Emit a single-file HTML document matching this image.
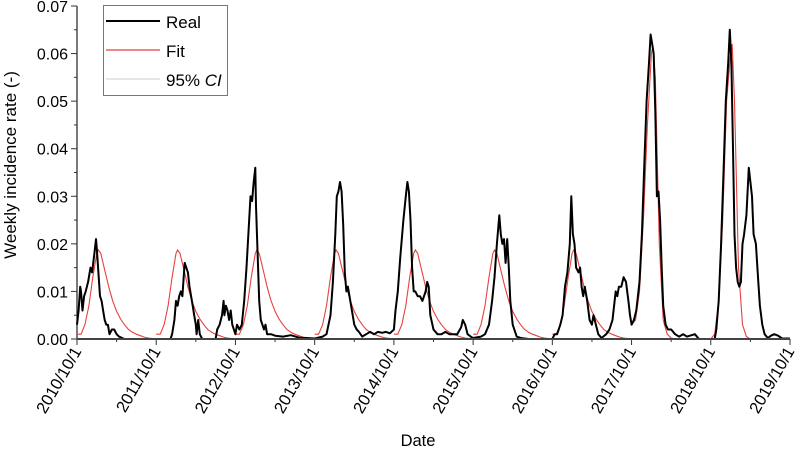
<!DOCTYPE html>
<html><head><meta charset="utf-8"><style>
body{margin:0;background:#fff;}
svg{display:block;font-family:"Liberation Sans",sans-serif;}
</style></head><body>
<svg id="chart" width="796" height="451">
<g id="axes"></g>
<g id="series"></g>
<g id="legend">
<rect x="103.5" y="5.5" width="124" height="90" fill="#fff" stroke="#777" stroke-width="1"/>
<line x1="106" y1="21" x2="160" y2="21" stroke="#000" stroke-width="2"/>
<text x="166" y="28" font-size="17">Real</text>
<line x1="106" y1="50" x2="160" y2="50" stroke="#e8403f" stroke-width="1.3"/>
<text x="166" y="57" font-size="17">Fit</text>
<line x1="106" y1="79" x2="160" y2="79" stroke="#ccc" stroke-width="1"/>
<text x="166" y="86" font-size="17">95% <tspan font-style="italic">CI</tspan></text>
</g>
</svg>
<script>
const realT=[0,.02,.04,.05,.07,.09,.11,.14,.17,.19,.22,.24,.25,.27,.29,.31,.33,.35,.37,.39,.41,.44,.47,.5,.53,.57,.6,
1.0,1.1,1.18,1.2,1.23,1.25,1.27,1.29,1.31,1.33,1.35,1.36,1.38,1.4,1.42,1.44,1.46,1.48,1.5,1.51,1.53,1.55,1.58,1.75,1.77,1.8,1.83,1.85,1.86,1.88,1.9,1.92,1.94,1.96,1.98,2.0,2.02,2.05,2.08,2.11,2.14,2.17,2.19,2.21,2.23,2.25,2.26,2.28,2.3,2.32,2.34,2.36,2.38,2.4,2.45,2.5,2.6,2.7,2.8,2.9,3.0,
3.1,3.15,3.2,3.23,3.26,3.28,3.3,3.32,3.34,3.36,3.38,3.4,3.42,3.44,3.47,3.5,3.53,3.56,3.6,3.65,3.7,3.75,3.8,3.85,3.9,3.95,4.0,
4.02,4.05,4.08,4.12,4.15,4.17,4.19,4.21,4.23,4.25,4.27,4.3,4.33,4.36,4.4,4.42,4.44,4.46,4.5,4.55,4.6,4.65,4.7,4.8,4.85,4.87,4.9,4.93,4.97,
5.0,5.1,5.15,5.2,5.24,5.27,5.3,5.33,5.35,5.37,5.39,5.41,5.43,5.45,5.47,5.5,5.55,5.6,5.7,6.0,
6.03,6.06,6.1,6.13,6.16,6.19,6.22,6.24,6.26,6.28,6.3,6.33,6.35,6.37,6.39,6.41,6.44,6.47,6.5,6.52,6.55,6.58,6.62,6.68,6.72,6.76,6.8,6.82,6.84,6.87,6.9,6.93,6.96,6.98,7.0,7.03,7.06,7.1,7.13,7.16,7.19,7.22,7.24,7.26,7.28,7.3,7.32,7.34,7.36,7.38,7.4,7.43,7.46,7.5,7.55,7.6,7.65,7.7,7.8,7.85,8.0,8.05,
8.07,8.1,8.13,8.16,8.19,8.22,8.24,8.26,8.28,8.3,8.32,8.34,8.36,8.38,8.4,8.42,8.45,8.48,8.5,8.52,8.54,8.57,8.6,8.62,8.65,8.68,8.72,8.76,8.8,8.85,8.9,9.0];
const realV=[.003,.006,.011,.01,.006,.009,.01,.012,.015,.014,.018,.021,.019,.014,.009,.008,.006,.004,.003,.003,.001,.002,.002,.001,.0005,.0002,0,
0,0,0,.001,.004,.008,.007,.009,.01,.009,.014,.016,.015,.014,.011,.009,.007,.005,.003,.001,.004,.001,0,0,.002,.003,.005,.008,.005,.007,.006,.004,.006,.003,.002,.001,.003,.002,.003,.008,.015,.024,.03,.029,.033,.036,.028,.018,.008,.004,.003,.002,.003,.001,.001,.0007,.0005,.0008,.0003,.0002,.0001,
.0005,.001,.005,.012,.022,.03,.031,.033,.031,.024,.014,.01,.011,.009,.006,.003,.002,.0015,.0005,.001,.0015,.001,.0015,.0013,.0015,.0012,.002,
.006,.01,.017,.025,.03,.033,.031,.025,.015,.01,.01,.009,.009,.008,.01,.012,.011,.005,.002,.001,.001,.0015,.001,.001,.0025,.004,.003,.001,.0005,
.0002,.0005,.001,.003,.008,.013,.02,.026,.022,.02,.021,.016,.021,.015,.008,.003,.0005,.0002,0,0,
.001,.001,.003,.005,.011,.014,.02,.03,.022,.02,.015,.014,.015,.011,.009,.011,.008,.004,.003,.005,.003,.001,.0002,.001,.002,.004,.01,.009,.011,.011,.013,.012,.008,.005,.003,.004,.006,.012,.022,.036,.05,.058,.064,.062,.06,.048,.03,.031,.025,.015,.007,.003,.002,.002,.001,.0005,.001,.0005,.001,0,0,0,
.002,.008,.02,.035,.05,.058,.065,.058,.04,.022,.015,.012,.011,.012,.02,.022,.026,.036,.033,.03,.022,.02,.012,.007,.003,.001,.0002,.0007,.001,.0007,.0001,.0001];
const fitOff=[0,.05,.1,.15,.2,.25,.27,.3,.35,.4,.45,.5,.55,.6,.65,.7,.75,.8,.85,.9,.95,1.0];
const fitBroad=[.001,.001,.003,.007,.013,.018,.0187,.018,.0145,.011,.008,.0058,.0042,.003,.002,.0014,.001,.0007,.0004,.0002,.0001,0];
const fit2017=[.003,.004,.01,.025,.045,.06,.0615,.055,.02,.004,.001,.0002,0,0,0,0,0,0,0,0,0,0];
const fit2018=[0,.001,.008,.025,.05,.06,.062,.05,.015,.003,.0005,0,0,0,0,0,0,0,0,0,0,0];
const seasonShapes=[fitBroad,fitBroad,fitBroad,fitBroad,fitBroad,fitBroad,fitBroad,fit2017,fit2018];
const yTicks=[0,0.01,0.02,0.03,0.04,0.05,0.06,0.07];
const yTickLabels=["0.00","0.01","0.02","0.03","0.04","0.05","0.06","0.07"];
const xTickLabels=["2010/10/1","2011/10/1","2012/10/1","2013/10/1","2014/10/1","2015/10/1","2016/10/1","2017/10/1","2018/10/1","2019/10/1"];

const NS="http://www.w3.org/2000/svg";
const X0=77,X1=790,Y0=339,Y1=6,YMAX=0.07,TMAX=9;
function xs(t){return X0+t/TMAX*(X1-X0);}
function ys(v){return Y0-v/YMAX*(Y0-Y1);}
function mk(tag,attrs,parent){const e=document.createElementNS(NS,tag);for(const k in attrs)e.setAttribute(k,attrs[k]);parent.appendChild(e);return e;}
const axes=document.getElementById('axes'),series=document.getElementById('series');
let yl=mk('line',{x1:X0,y1:Y0,x2:X0,y2:Y1,stroke:'#333','stroke-width':1.3},axes);


for(let v=0;v<=0.0701;v+=0.005){
  const major=Math.abs(v/0.01-Math.round(v/0.01))<1e-6;
  let t=mk('line',{x1:X0-(major?6:3),x2:X0,y1:ys(v),y2:ys(v),stroke:'#333','stroke-width':1},axes);
  
  
}
yTicks.forEach((v,i)=>{
  let t=mk('text',{x:X0-9,y:ys(v)+6,'font-size':16,'text-anchor':'end',fill:'#000'},axes);
  t.textContent=yTickLabels[i];
  
  
});
for(let k=0;k<=TMAX*2;k++){
  const t=k/2,major=k%2===0;
  let l=mk('line',{x1:xs(t),x2:xs(t),y1:Y0,y2:Y0+(major?6:3),stroke:'#333','stroke-width':1},axes);
  
  
}
xTickLabels.forEach((s,i)=>{
  const x=xs(i)+5,y=Y0+12;
  let t=mk('text',{x:x,y:y,'font-size':16.5,'text-anchor':'end',transform:`rotate(-60 ${x} ${y})`},axes);
  t.textContent=s;
  
  
});
let xt=mk('text',{x:418,y:446,'font-size':16.5,'text-anchor':'middle'},axes);
xt.textContent='Date';


let yt=mk('text',{x:16,y:165,'font-size':17,'text-anchor':'middle',transform:'rotate(-90 16 165)'},axes);
yt.textContent='Weekly incidence rate (-)';


seasonShapes.forEach((shape,s)=>{
  const pts=fitOff.map((o,i)=>xs(s+o).toFixed(1)+','+ys(shape[i]).toFixed(1)).join(' ');
  let p=mk('polyline',{points:pts,fill:'none',stroke:'#e8403f','stroke-width':1.1},series);
  
  
});
const rp=realT.map((t,i)=>xs(t).toFixed(1)+','+ys(realV[i]).toFixed(1)).join(' ');
let r=mk('polyline',{points:rp,fill:'none',stroke:'#000','stroke-width':2,'stroke-linejoin':'round'},series);


let xa=mk('line',{x1:X0,y1:Y0,x2:X1,y2:Y0,stroke:'#444','stroke-width':2},series);


</script>
</body></html>
